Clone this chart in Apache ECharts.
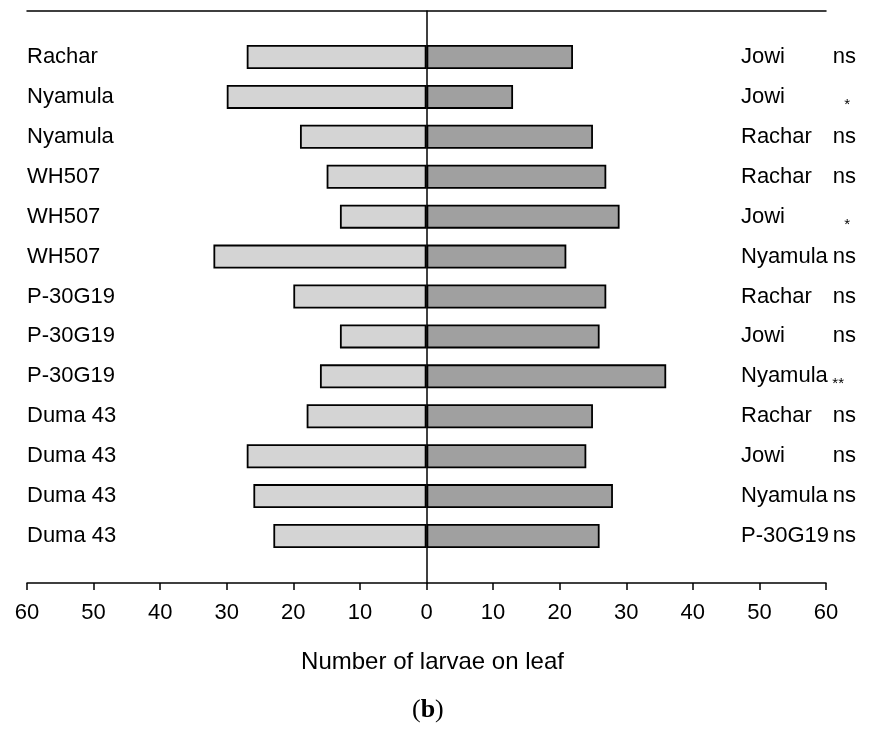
<!DOCTYPE html>
<html>
<head>
<meta charset="utf-8">
<script src="https://cdn.jsdelivr.net/npm/echarts@6/dist/echarts.min.js"></script>
<style>html,body{margin:0;padding:0;background:#fff}#c{width:870px;height:731px}</style>
</head>
<body>
<div id="c"></div>
<script>
// ---- data ----
var leftCultivars = ['Rachar','Nyamula','Nyamula','WH507','WH507','WH507','P-30G19','P-30G19','P-30G19','Duma 43','Duma 43','Duma 43','Duma 43'];
var rightCultivars = ['Jowi','Jowi','Rachar','Rachar','Jowi','Nyamula','Rachar','Jowi','Nyamula','Rachar','Jowi','Nyamula','P-30G19'];
var significance = ['ns','*','ns','ns','*','ns','ns','ns','**','ns','ns','ns','ns'];
var leftLarvae = [27,30,19,15,13,32,20,13,16,18,27,26,23];
var rightLarvae = [22,13,25,27,29,21,27,26,36,25,24,28,26];
var axisTitle = 'Number of larvae on leaf';
var panelLabel = 'b';

// ---- style ----
var FONT = 'Liberation Sans, Arial, sans-serif';
var SERIF = 'Liberation Serif, DejaVu Serif, serif';
var LW = 1.5;
var FS = 22;

var chart = echarts.init(document.getElementById('c'), null, {renderer:'canvas'});
var GL = 27, GR = 870-826;
chart.setOption({
  animation: false,
  backgroundColor: '#fff',
  title: {
    text: '({b|' + panelLabel + '})',
    left: 407, top: 692,
    textStyle: {fontFamily: SERIF, fontSize: 26, color:'#000', fontWeight:'normal',
      rich: {b: {fontFamily: SERIF, fontSize: 26, fontWeight:'bold', color:'#000'}}}
  },
  grid: [
    {left: GL, right: GR, top: 37, height: 519},
    {left: GL, right: GR, top: 11, bottom: 731-583}
  ],
  xAxis: [
    {gridIndex: 0, type: 'value', min: -60, max: 60, show: false},
    {gridIndex: 1, type: 'value', min: -60, max: 60, interval: 10, position: 'bottom',
     axisLine: {show: true, onZero: false, lineStyle: {color:'#000', width: LW}},
     axisTick: {show: true, length: 7, inside: false, lineStyle: {color:'#000', width: LW}},
     splitLine: {show: false},
     axisLabel: {formatter: function(v){ return String(Math.abs(v)); }, fontFamily: FONT, fontSize: FS, color:'#000', margin: 19},
     name: axisTitle, nameLocation: 'middle', nameGap: 67,
     nameTextStyle: {fontFamily: FONT, fontSize: 24, color:'#000', padding: [0,0,0,12]}},
    {gridIndex: 1, type: 'value', min: -60, max: 60, position: 'top',
     axisLine: {show: true, onZero: false, lineStyle: {color:'#000', width: LW}},
     axisTick: {show: false}, axisLabel: {show: false}, splitLine: {show: false}}
  ],
  yAxis: [
    {gridIndex: 0, type: 'category', data: leftCultivars, inverse: true, position: 'left',
     axisLine: {show: false}, axisTick: {show: false}, splitLine: {show:false},
     axisLabel: {interval: 0, align: 'left', margin: 0, fontFamily: FONT, fontSize: FS, color:'#000'}},
    {gridIndex: 0, type: 'category', data: rightCultivars, inverse: true, position: 'right',
     axisLine: {show: false}, axisTick: {show: false}, splitLine: {show:false},
     axisLabel: {interval: 0, align: 'left', margin: 741-826, fontFamily: FONT, fontSize: FS, color:'#000'}},
    {gridIndex: 0, type: 'category', data: significance, inverse: true, position: 'right', offset: 0,
     axisLine: {show: false}, axisTick: {show: false}, splitLine: {show:false},
     axisLabel: {interval: 0, align: 'right', margin: 856-826,
       formatter: function(v){ return v === '**' ? '{d|' + v + '}' : (v === '*' ? '{a|' + v + '}' : '{s|' + v + '}'); },
       rich: {
         s: {fontFamily: FONT, fontSize: FS, color: '#000'},
         a: {fontFamily: FONT, fontSize: 15, color: '#000', padding: [16,6,0,0]},
         d: {fontFamily: FONT, fontSize: 15, color: '#000', padding: [16,12,0,0]}
       }}},
    {gridIndex: 1, type: 'value', min: 0, max: 1, position: 'left',
     axisLine: {show: true, onZero: true, onZeroAxisIndex: 1, lineStyle: {color:'#000', width: LW}},
     axisTick: {show:false}, axisLabel: {show:false}, splitLine: {show:false}}
  ],
  series: [
    {type: 'bar', name: 'left', xAxisIndex: 0, yAxisIndex: 0, stack: 'pair', barWidth: 24,
     data: leftLarvae.map(function(v){ return -v; }),
     itemStyle: {color: '#d4d4d4', borderColor: '#000', borderWidth: 1.8}},
    {type: 'bar', name: 'right', xAxisIndex: 0, yAxisIndex: 0, stack: 'pair', barWidth: 24,
     data: rightLarvae,
     itemStyle: {color: '#a0a0a0', borderColor: '#000', borderWidth: 1.8}}
  ]
});
</script>
</body>
</html>
